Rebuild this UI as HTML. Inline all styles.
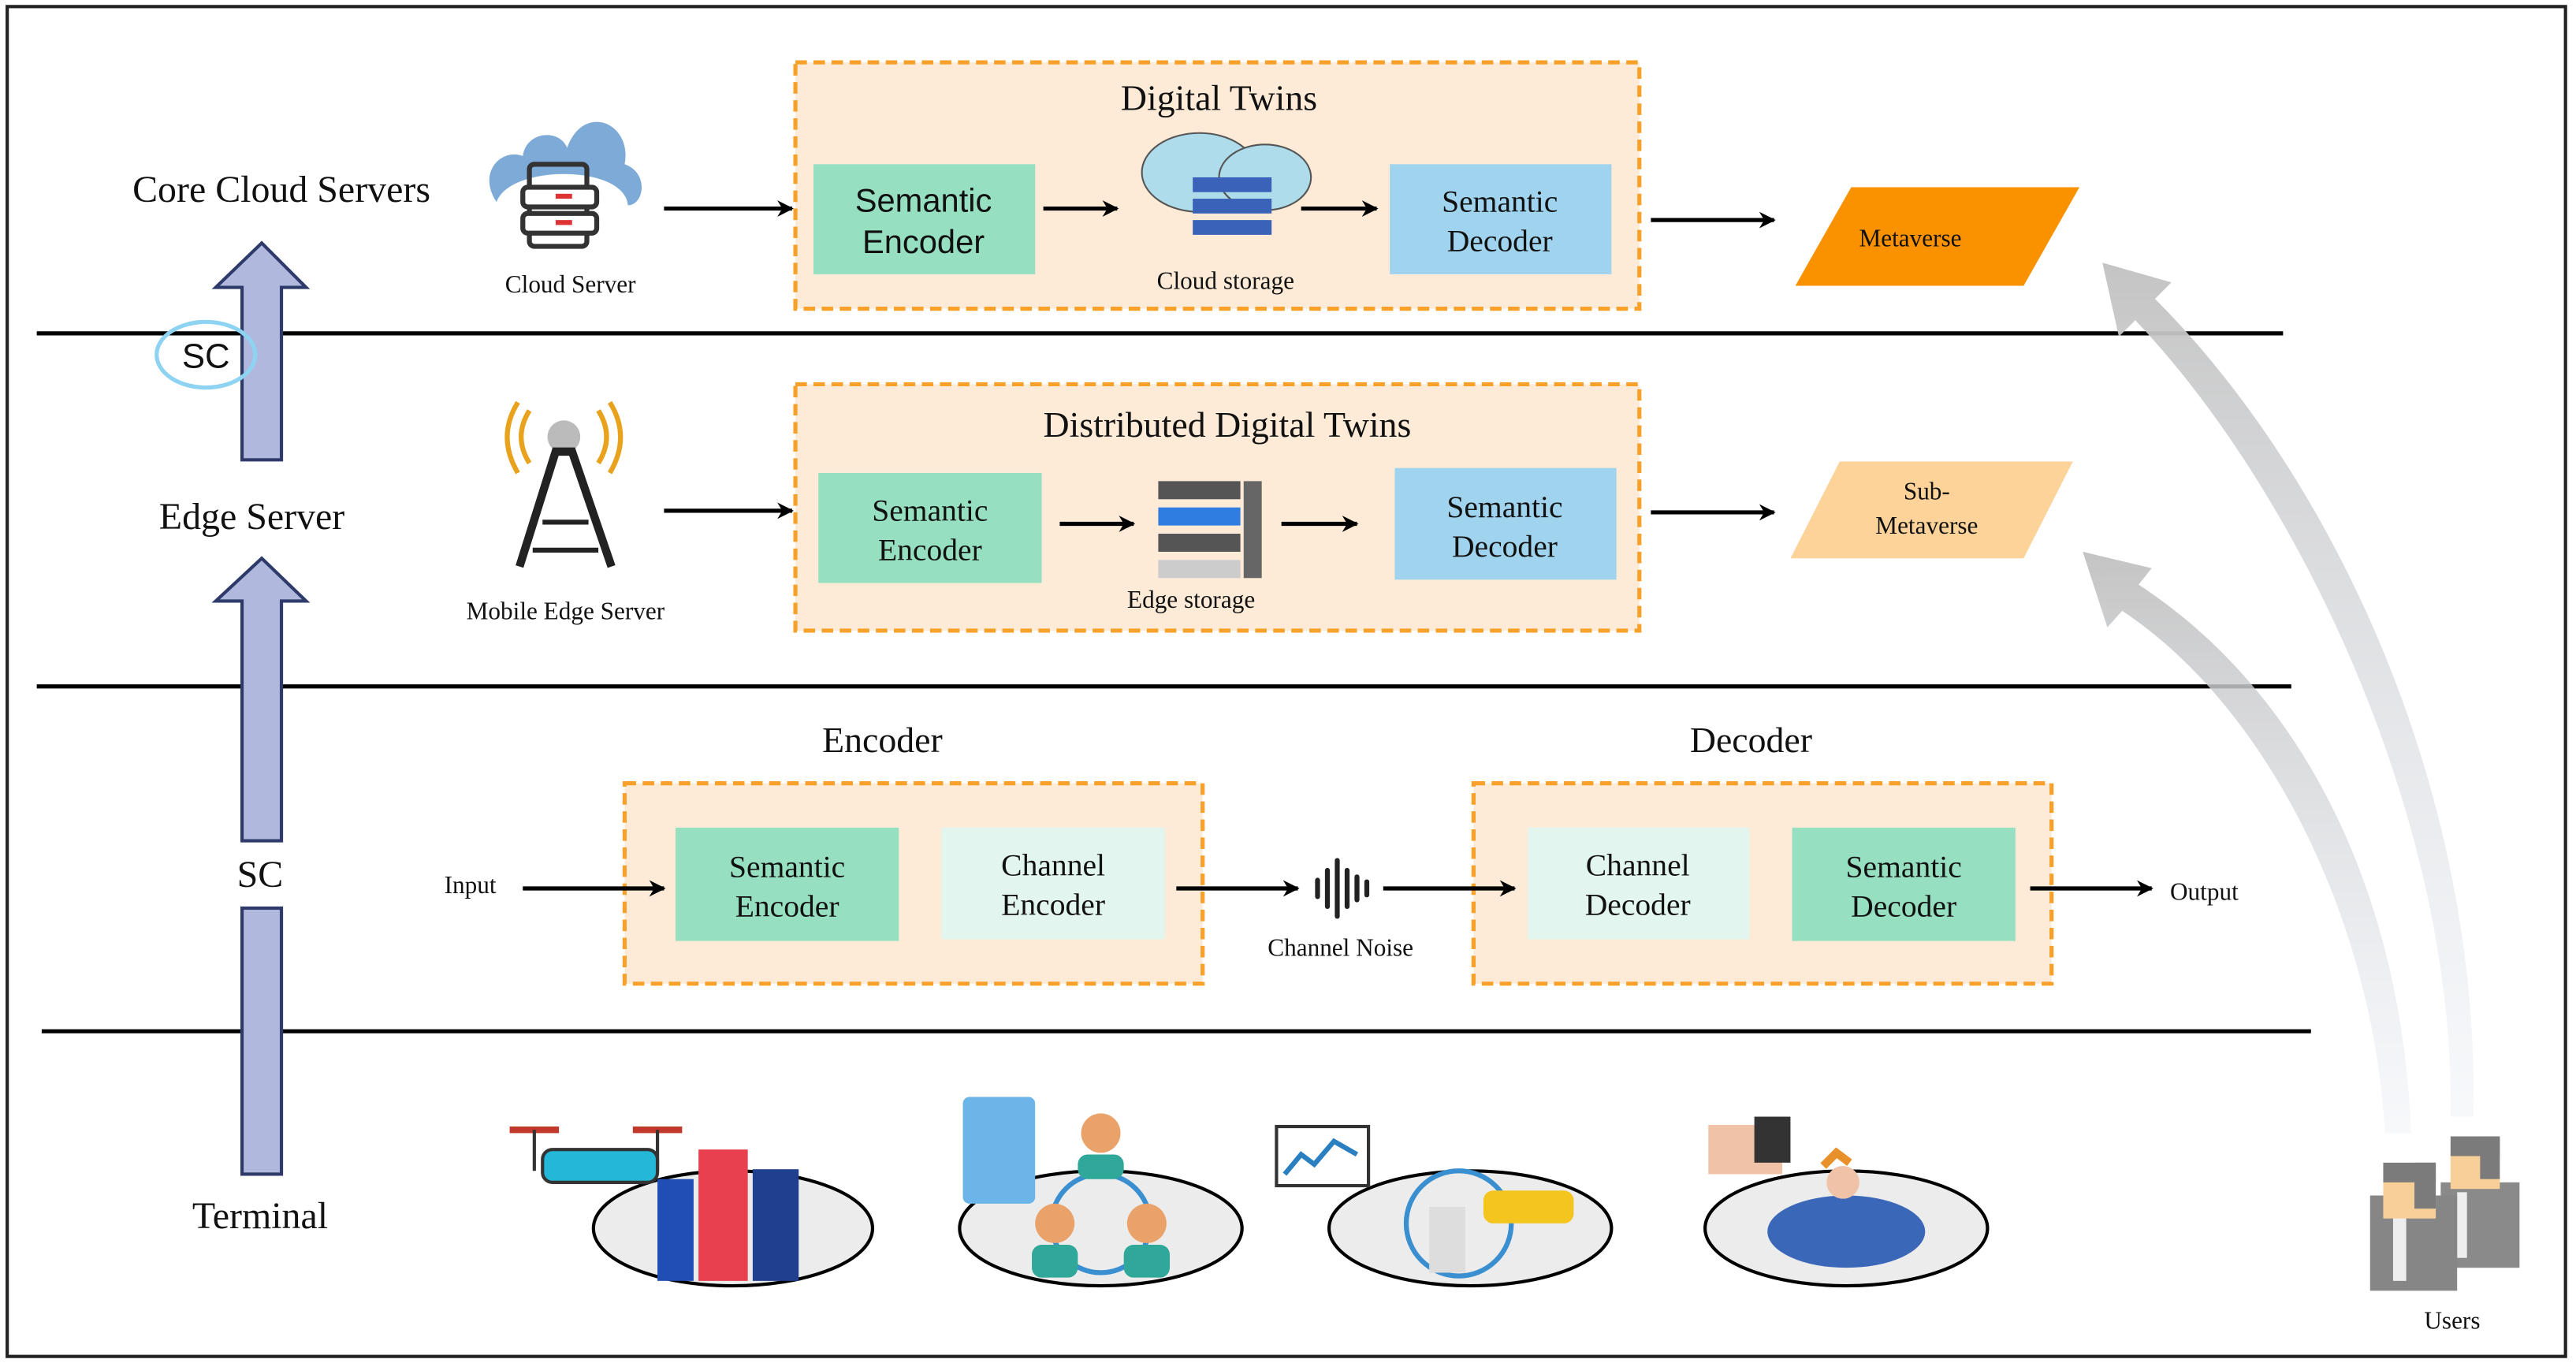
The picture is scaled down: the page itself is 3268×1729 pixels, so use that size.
<!DOCTYPE html>
<html><head><meta charset="utf-8"><style>
html,body{margin:0;padding:0;background:#fff;}
svg{display:block;}
text{font-family:"Liberation Serif",serif;fill:#111;}
.s{font-family:"Liberation Sans",sans-serif;}
</style></head><body>
<svg width="3268" height="1729" viewBox="0 0 1568 830" xmlns="http://www.w3.org/2000/svg">
<defs>
<marker id="ah" markerWidth="10" markerHeight="10" refX="9" refY="5" orient="auto" markerUnits="userSpaceOnUse"><path d="M0,0 L10,5 L0,10 L3,5 Z" fill="#000"/></marker>
<linearGradient id="g1" x1="0" y1="1" x2="0" y2="0"><stop offset="0" stop-color="#e4e8f0" stop-opacity="0.3"/><stop offset="1" stop-color="#c4c4c4"/></linearGradient>
</defs>
<rect x="4" y="4" width="1558" height="822" fill="#fff" stroke="#222" stroke-width="2"/>
<g stroke="#000" stroke-width="2.5">
<line x1="22" y1="203" x2="1390" y2="203"/>
<line x1="22" y1="418" x2="1395" y2="418"/>
<line x1="25" y1="628" x2="1407" y2="628"/>
</g>
<g fill="#b0b9dd" stroke="#2e3a6a" stroke-width="2">
<path d="M147,280 L147,175 L131,175 L159,148 L186,175 L171,175 L171,280 Z"/>
<path d="M147,512 L147,366 L131,366 L159,340 L186,366 L171,366 L171,512 Z"/>
<rect x="147" y="553" width="24" height="162"/>
</g>
<ellipse cx="125" cy="216" rx="30" ry="20" fill="none" stroke="#8fd3f2" stroke-width="2.5"/>
<text x="125" y="224" font-size="21" text-anchor="middle" class="s">SC</text>
<text x="171" y="123" font-size="23" text-anchor="middle">Core Cloud Servers</text>
<text x="153" y="322" font-size="23" text-anchor="middle">Edge Server</text>
<text x="158" y="540" font-size="23" text-anchor="middle">SC</text>
<text x="158" y="748" font-size="23" text-anchor="middle">Terminal</text>
<g>
<path d="M302,123 C290,105 305,90 318,95 C320,80 340,78 345,90 C355,62 385,75 380,100 C395,105 392,125 382,125 C380,100 310,100 302,123 Z" fill="#7eaad8"/>
<g fill="none" stroke="#333" stroke-width="3"><rect x="322" y="100" width="35" height="50" rx="3"/><rect x="318" y="114" width="45" height="12" rx="3" fill="#fff"/><rect x="318" y="130" width="45" height="12" rx="3" fill="#fff"/></g>
<rect x="338" y="118" width="10" height="3" fill="#d33"/><rect x="338" y="134" width="10" height="3" fill="#d33"/>
</g>
<text x="347" y="178" font-size="15" text-anchor="middle">Cloud Server</text>
<rect x="484" y="38" width="514" height="150" fill="#fdebd7" stroke="#f7a12b" stroke-width="2.5" stroke-dasharray="7,4"/>
<text x="742" y="67" font-size="22" text-anchor="middle">Digital Twins</text>
<rect x="495" y="100" width="135" height="67" fill="#96dfc0"/>
<text x="562" y="129" font-size="20" text-anchor="middle" class="s">Semantic</text>
<text x="562" y="154" font-size="20" text-anchor="middle" class="s">Encoder</text>
<ellipse cx="730" cy="105" rx="35" ry="24" fill="#aedcea" stroke="#555"/>
<ellipse cx="770" cy="108" rx="28" ry="20" fill="#aedcea" stroke="#555"/>
<g fill="#3a62b8"><rect x="726" y="108" width="48" height="9"/><rect x="726" y="121" width="48" height="9"/><rect x="726" y="134" width="48" height="9"/></g>
<text x="746" y="176" font-size="15" text-anchor="middle">Cloud storage</text>
<rect x="846" y="100" width="135" height="67" fill="#a0d4ee"/>
<text x="913" y="129" font-size="19" text-anchor="middle">Semantic</text>
<text x="913" y="153" font-size="19" text-anchor="middle">Decoder</text>
<polygon points="1093,174 1127,114 1266,114 1232,174" fill="#fa9200"/>
<text x="1163" y="150" font-size="15" text-anchor="middle">Metaverse</text>
<g>
<circle cx="343" cy="266" r="10" fill="#bbb"/>
<path d="M316,345 L338,275 L348,275 L372,345" fill="none" stroke="#222" stroke-width="5"/>
<path d="M330,318 L358,318 M324,335 L364,335" stroke="#222" stroke-width="3"/>
<path d="M322,250 Q312,266 322,282 M364,250 Q374,266 364,282 M315,245 Q302,266 315,288 M371,245 Q384,266 371,288" fill="none" stroke="#e8a21c" stroke-width="3"/>
</g>
<text x="344" y="377" font-size="15" text-anchor="middle">Mobile Edge Server</text>
<rect x="484" y="234" width="514" height="150" fill="#fdebd7" stroke="#f7a12b" stroke-width="2.5" stroke-dasharray="7,4"/>
<text x="747" y="266" font-size="22" text-anchor="middle">Distributed Digital Twins</text>
<rect x="498" y="288" width="136" height="67" fill="#96dfc0"/>
<text x="566" y="317" font-size="19" text-anchor="middle">Semantic</text>
<text x="566" y="341" font-size="19" text-anchor="middle">Encoder</text>
<g><rect x="705" y="293" width="50" height="11" fill="#555"/><rect x="705" y="309" width="50" height="11" fill="#2f7de1"/><rect x="705" y="325" width="50" height="11" fill="#555"/><rect x="705" y="341" width="50" height="11" fill="#ccc"/><rect x="757" y="293" width="11" height="59" fill="#666"/></g>
<text x="725" y="370" font-size="15" text-anchor="middle">Edge storage</text>
<rect x="849" y="285" width="135" height="68" fill="#a0d4ee"/>
<text x="916" y="315" font-size="19" text-anchor="middle">Semantic</text>
<text x="916" y="339" font-size="19" text-anchor="middle">Decoder</text>
<polygon points="1090,340 1120,281 1262,281 1232,340" fill="#fdd39a"/>
<text x="1173" y="304" font-size="15" text-anchor="middle">Sub-</text>
<text x="1173" y="325" font-size="15" text-anchor="middle">Metaverse</text>
<text x="537" y="458" font-size="22" text-anchor="middle">Encoder</text>
<text x="1066" y="458" font-size="22" text-anchor="middle">Decoder</text>
<rect x="380" y="477" width="352" height="122" fill="#fdebd7" stroke="#f7a12b" stroke-width="2.5" stroke-dasharray="7,4"/>
<rect x="897" y="477" width="352" height="122" fill="#fdebd7" stroke="#f7a12b" stroke-width="2.5" stroke-dasharray="7,4"/>
<rect x="411" y="504" width="136" height="69" fill="#96dfc0"/>
<text x="479" y="534" font-size="19" text-anchor="middle">Semantic</text><text x="479" y="558" font-size="19" text-anchor="middle">Encoder</text>
<rect x="573" y="504" width="136" height="68" fill="#e2f5ee"/>
<text x="641" y="533" font-size="19" text-anchor="middle">Channel</text><text x="641" y="557" font-size="19" text-anchor="middle">Encoder</text>
<rect x="930" y="504" width="135" height="68" fill="#e2f5ee"/>
<text x="997" y="533" font-size="19" text-anchor="middle">Channel</text><text x="997" y="557" font-size="19" text-anchor="middle">Decoder</text>
<rect x="1091" y="504" width="136" height="69" fill="#96dfc0"/>
<text x="1159" y="534" font-size="19" text-anchor="middle">Semantic</text><text x="1159" y="558" font-size="19" text-anchor="middle">Decoder</text>
<text x="286" y="544" font-size="15" text-anchor="middle">Input</text>
<text x="1342" y="548" font-size="15" text-anchor="middle">Output</text>
<g stroke="#222" stroke-width="3" stroke-linecap="round">
<line x1="802" y1="536" x2="802" y2="546"/><line x1="808" y1="530" x2="808" y2="552"/><line x1="814" y1="524" x2="814" y2="558"/><line x1="820" y1="530" x2="820" y2="552"/><line x1="826" y1="534" x2="826" y2="548"/><line x1="832" y1="537" x2="832" y2="545"/>
</g>
<text x="816" y="582" font-size="15" text-anchor="middle">Channel Noise</text>
<!-- arrows on top -->
<g stroke="#000" stroke-width="2.5" marker-end="url(#ah)">
<line x1="404" y1="127" x2="482" y2="127"/><line x1="635" y1="127" x2="680" y2="127"/><line x1="792" y1="127" x2="838" y2="127"/><line x1="1005" y1="134" x2="1080" y2="134"/>
<line x1="404" y1="311" x2="482" y2="311"/><line x1="645" y1="319" x2="690" y2="319"/><line x1="780" y1="319" x2="826" y2="319"/><line x1="1005" y1="312" x2="1080" y2="312"/>
<line x1="318" y1="541" x2="404" y2="541"/><line x1="716" y1="541" x2="790" y2="541"/><line x1="842" y1="541" x2="922" y2="541"/><line x1="1236" y1="541" x2="1310" y2="541"/>
</g>
<path d="M1492,680 C1495,500 1400,300 1300,195 L1290,205 L1280,160 L1322,172 L1312,182 C1420,290 1510,480 1506,680 Z" fill="url(#g1)"/>
<path d="M1452,690 C1445,560 1380,430 1292,372 L1283,382 L1268,336 L1310,346 L1302,356 C1400,420 1462,540 1468,690 Z" fill="url(#g1)"/>
<g>
<rect x="1486" y="720" width="48" height="52" fill="#8a8a8a"/>
<rect x="1496" y="726" width="6" height="40" fill="#eee"/>
<rect x="1492" y="696" width="30" height="28" fill="#f9cf99"/><rect x="1492" y="692" width="30" height="12" fill="#7b7b7b"/><rect x="1510" y="692" width="12" height="26" fill="#7b7b7b"/>
<rect x="1443" y="728" width="53" height="58" fill="#868686"/>
<rect x="1457" y="734" width="8" height="46" fill="#eee"/>
<rect x="1451" y="712" width="32" height="30" fill="#f9cf99"/><rect x="1451" y="708" width="32" height="12" fill="#7b7b7b"/><rect x="1470" y="708" width="13" height="28" fill="#7b7b7b"/>
</g>
<text x="1493" y="809" font-size="15" text-anchor="middle">Users</text>
<g fill="#ececec" stroke="#000" stroke-width="2">
<ellipse cx="446" cy="748" rx="85" ry="35"/><ellipse cx="670" cy="748" rx="86" ry="35"/><ellipse cx="895" cy="748" rx="86" ry="35"/><ellipse cx="1124" cy="748" rx="86" ry="35"/>
</g>
<g>
<rect x="330" y="700" width="70" height="20" rx="6" fill="#23b7d8" stroke="#333" stroke-width="2"/>
<path d="M310,688 h30 M385,688 h30" stroke="#c0392b" stroke-width="4"/>
<path d="M325,688 v25 M400,688 v25" stroke="#333" stroke-width="2"/>
<rect x="400" y="718" width="22" height="62" fill="#1f4fb5"/><rect x="425" y="700" width="30" height="80" fill="#e8404e"/><rect x="458" y="712" width="28" height="68" fill="#1f3f8f"/>
</g>
<g>
<rect x="586" y="668" width="44" height="65" rx="4" fill="#6cb5e8"/>
<circle cx="670" cy="745" r="30" fill="none" stroke="#3a8fd0" stroke-width="3"/>
<circle cx="670" cy="690" r="12" fill="#e9a36a"/><rect x="656" y="703" width="28" height="15" rx="6" fill="#2fa89a"/>
<circle cx="642" cy="745" r="12" fill="#e9a36a"/><rect x="628" y="758" width="28" height="20" rx="6" fill="#2fa89a"/>
<circle cx="698" cy="745" r="12" fill="#e9a36a"/><rect x="684" y="758" width="28" height="20" rx="6" fill="#2fa89a"/>
</g>
<g>
<rect x="777" y="686" width="56" height="36" fill="#fff" stroke="#333" stroke-width="2"/><path d="M782,715 l10,-12 l8,6 l12,-14 l14,8" stroke="#2a7fc0" stroke-width="3" fill="none"/>
<circle cx="888" cy="745" r="32" fill="none" stroke="#3a8fd0" stroke-width="3"/>
<rect x="903" y="725" width="55" height="20" rx="6" fill="#f4c41f"/>
<rect x="870" y="735" width="22" height="40" fill="#ddd"/>
</g>
<g>
<path d="M1040,685 h45 v30 h-45 Z" fill="#f0c3a8"/><rect x="1068" y="680" width="22" height="28" fill="#333"/>
<ellipse cx="1124" cy="750" rx="48" ry="22" fill="#3b67b8"/>
<circle cx="1122" cy="720" r="10" fill="#f0c3a8"/><path d="M1110,710 l8,-8 l8,6" stroke="#e8902a" stroke-width="5" fill="none"/>
</g>
</svg>
</body></html>
